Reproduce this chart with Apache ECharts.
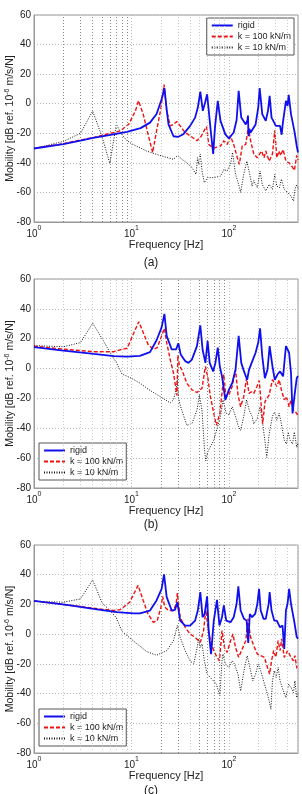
<!DOCTYPE html>
<html><head><meta charset="utf-8">
<script src="https://cdn.jsdelivr.net/npm/echarts@6/dist/echarts.min.js"></script>
<style>html,body{margin:0;padding:0;background:#fff;}#c{width:302px;height:794px;}</style>
</head><body><div id="c"></div>
<script>
// ---- data: [frequency Hz, mobility dB] ----
const rigidA = [[1,-30.3],[2,-27.4],[3,-25],[3.93,-23.3],[6.1,-21],[9,-19],[12.4,-16.5],[15.5,-12.8],[18.1,-7],[20.4,3],[21.8,10.5],[23,-4],[24,-14],[27,-22],[30,-22.5],[34,-20.7],[40,-15],[45,-9.4],[48,-2.6],[50.9,8.2],[54,-4.8],[57,0.8],[59.8,6.4],[64.6,-16],[69,-34],[72,-16],[76.9,2],[82,-11.6],[92,-20.7],[100,-23.4],[112,-19.5],[120,-11],[126,8.7],[134,-9.4],[149,-14],[155,-11],[157,-8],[159,-22],[162,-17],[167,-19.5],[188,-14],[200,-2.6],[207,10.5],[220,-7],[239,-11.6],[252,-4.8],[262,5.3],[274,-9.4],[292,-12.8],[303,-15],[315,-14],[335,-15],[348,-21],[358,-13],[370,-12.8],[385,2],[400,-1.5],[411,6],[434,-7],[470,-18.4],[497,-28.6],[512,-33]];
const k100A = [[1,-30.3],[2,-27],[2.98,-24.6],[4,-23],[6.1,-20],[7.7,-18.3],[9.4,-13.8],[11,-4.8],[11.8,2],[13.2,-7],[14.8,-20.6],[16.5,-33],[18.1,-18.4],[20,-3.7],[21.6,13],[23,-4.8],[25,-15],[27,-14],[29.2,-12],[31.6,-15],[35.6,-19.5],[41.7,-22.5],[47,-25],[52,-22],[57,-17],[59,-15.5],[62,-27.5],[70,-30],[82,-28.6],[89,-25],[96,-27.5],[104,-22],[112,-27.5],[122,-36.5],[128,-41],[137,-28.6],[149,-27.5],[158,-16],[167,-25],[180,-34],[196,-36.5],[216,-32],[230,-36.5],[239,-32],[259,-38.8],[280,-34],[296,-18],[310,-36.5],[328,-32],[340,-35],[360,-31],[385,-38.8],[415,-40],[450,-43],[470,-45],[497,-35],[512,-38]];
const k10A = [[1,-30.3],[2,-25.5],[3,-20],[4,-5],[5,-22.5],[6,-40.4],[7,-14],[8,-21],[9,-25],[10,-27],[14.3,-32],[19.6,-35],[27,-37.6],[29.9,-35],[33,-37.6],[37,-40],[41.7,-43],[46,-47.8],[47.7,-36.5],[49,-41],[50.9,-34],[53,-45.5],[56,-53.4],[60.5,-50],[70,-50],[82,-49],[89,-44.4],[96,-45.5],[104,-41],[109,-33],[117,-47.8],[126,-54.6],[132,-60],[142,-47.8],[153,-38.8],[161,-45.5],[173,-55.7],[180,-52],[196,-56.8],[209,-45.5],[220,-54.6],[239,-59],[259,-54.6],[280,-58],[296,-47.8],[310,-55.7],[330,-56.8],[346,-51],[370,-58],[400,-60],[434,-62.5],[460,-65.8],[476,-58],[497,-54.6],[512,-58]];

const rigidB = [[1,14.3],[2,12],[4.1,9.8],[6.6,8.4],[9,8],[12.2,8.5],[15.5,11],[18.1,19],[20.4,27.6],[21.8,36.6],[23,21.9],[25.9,12.8],[28.7,12.8],[30.3,17],[32,9.5],[35.6,5],[38.5,3.8],[41.7,6],[47,15],[50.9,29],[53.7,12.8],[57.4,3.8],[60.5,18.5],[63.5,3.8],[69,-1.9],[72.7,3.8],[76.9,14],[80.7,1.5],[85,-5.2],[92,-21],[100,-14.3],[108,-9.8],[117,-0.7],[126,21.9],[134,3.8],[143,-1.9],[154,-7.5],[161,-0.7],[174,5],[188,10.6],[200,17.4],[209,27],[220,8.3],[234,-6.4],[249,-0.7],[262,15],[280,1.5],[296,-7.5],[315,-4],[335,-1.9],[360,-5.2],[385,15],[400,12.8],[415,10.6],[434,-3],[450,-30],[470,-18.8],[497,-6.4],[512,-5]];
const k100B = [[1,15],[2,13],[4.1,11.3],[6.6,11.3],[7.6,12.5],[9,13.6],[9.6,17.4],[10.8,25.3],[11.9,31.4],[13.2,24.2],[14.8,16.2],[16.8,12.8],[18.4,14],[20.4,21.9],[21.8,26.9],[23,17.4],[25,6],[27,-3],[28.7,-14],[29.3,-18],[30,9],[31,2],[32.9,-0.7],[37,-9.8],[41.7,-14.3],[47,-16],[53,-13.2],[57.4,1.5],[60.5,-5.2],[64.6,-18.8],[70,-30],[74.5,-38],[80.7,-30],[85,-16.6],[88.7,-4],[93,-18.8],[100,-17.7],[108,-12],[117,-0.7],[124,-17.7],[132,-25.6],[142,-18.8],[152,-6.4],[161,-16.6],[170,-15.5],[180,-16.6],[194,-12],[205,-8],[215,-25],[222,-37],[235,-22],[259,-17.7],[280,-7.5],[296,-9.8],[310,-12],[328,-7.5],[346,-14.3],[370,-21],[390,-18.8],[415,-25.6],[434,-21],[460,-27.9],[497,-30],[512,-32]];
const k10B = [[1,15.4],[2,14.6],[3,17.4],[4,30.4],[5,20],[6,11],[7,4],[8,-3.6],[10,-6.5],[12.4,-10],[15,-14],[20,-19],[25,-23],[27,-21],[28.5,-15],[29.5,-7.5],[30.5,-20],[32,-25.6],[37,-38],[41.7,-37],[47,-27.9],[49.8,-17.7],[53,-27.9],[56,-52.8],[57.8,-61.8],[60.5,-56],[70,-48],[82,-32],[87,-21],[94,-30],[100,-31],[108,-25.6],[117,-32],[124,-38],[132,-41.4],[143,-31],[152,-21],[162,-28],[173,-32],[180,-37],[196,-33.5],[209,-25.6],[220,-34.6],[234,-48],[245,-59.5],[259,-43.7],[280,-32],[296,-29],[310,-34.6],[328,-30],[346,-37],[370,-48],[390,-50.5],[405,-42.5],[425,-48],[450,-50.5],[470,-42.5],[497,-52.8],[512,-50]];

const rigidC = [[1,22.4],[2.17,19.7],[4.07,17],[7.07,14.8],[10.5,14],[12.2,14],[15.5,15.9],[18.1,22.7],[20.4,30.5],[21.6,40.2],[23,24.9],[25.9,15.9],[28,16.4],[29.6,21.5],[31.6,9.1],[35.6,5.8],[40,5.8],[45,9.1],[48,15.9],[50.9,28.3],[53.7,11.4],[56.4,13.6],[59.8,25.4],[62,2.4],[65.6,-13.4],[70,9.1],[75.5,23.1],[80,5.8],[85,11.4],[88.7,19.3],[94,9.1],[104,8],[112,11.4],[120,20.4],[125,32.1],[132,15.9],[143,10.3],[152,9.1],[158,-6],[164,13.6],[173,11.4],[186,13.6],[196,20.4],[204,30.5],[212,15.9],[227,10.3],[239,10.3],[256,20.4],[262,28.3],[274,15.9],[292,9.1],[310,9.1],[335,4.6],[355,5.8],[370,-10],[385,15.9],[400,20.4],[415,30.5],[434,20.4],[470,8],[497,-2],[512,-3]];
const k100C = [[1,22.4],[2.17,19.7],[4.07,17.4],[6.5,16],[7.6,16.4],[8.2,17.9],[9.6,21.5],[10.8,28.3],[11.7,32.8],[13.2,22.7],[14.8,13.6],[16.8,8],[18.4,9.1],[20.1,18.2],[20.9,25.4],[22,18.2],[24,15.9],[27,15.9],[28.7,20.4],[29.6,27.6],[31.6,11.4],[35.6,4.6],[40,0.1],[45,-2.1],[50.9,-5.5],[55,2.4],[58,16.4],[61,4.6],[64.6,-4.4],[70,-11.1],[75.5,-15.6],[80,-17.9],[85,2.4],[90,-8.9],[96,-12.3],[104,-4.4],[110,0.1],[117,-8.9],[126,-15.6],[137,-10],[149,-4.4],[157,10.3],[167,-2.1],[180,-7.8],[196,-13.4],[212,-14.5],[231,-15.6],[249,-22.4],[262,-26.9],[274,-17.9],[288,-11.1],[303,-15.6],[320,-4.4],[335,-11.1],[348,-3.2],[370,-15.6],[400,-11.1],[434,-15.6],[460,-17.9],[476,-14.5],[497,-22.4],[512,-24]];
const k10C = [[1,22],[2,21.5],[3,23.7],[4,36.5],[5,21],[6,16],[7,11],[8,1.8],[10.4,-4.4],[14.3,-11.7],[18.1,-14.2],[23,-11.1],[27,-4.4],[29.6,5.8],[31.6,-2.1],[35.6,-11.1],[40,-17.9],[43.5,-20.1],[47,-10],[48.9,-3.2],[50.9,-8.9],[53,-6.6],[56,-17.9],[59.8,-26.9],[67,-30.3],[74.5,-33.7],[80.7,-41.5],[85,-17.9],[87,-13.4],[92,-20.1],[100,-22.4],[108,-17.9],[114,-20.1],[124,-26.9],[132,-38.2],[143,-24.6],[154,-14.5],[164,-22.4],[176,-31.4],[188,-26.9],[200,-20.1],[212,-24.6],[227,-31.4],[243,-38.2],[259,-44.9],[270,-50.5],[280,-31.4],[292,-24.6],[305,-29.1],[320,-22.4],[335,-31.4],[357,-37],[385,-42.7],[411,-33.7],[434,-35.9],[460,-39.3],[476,-31.4],[497,-42.7],[512,-40]];

const seriesNames = ['rigid', 'k = 100 kN/m', 'k = 10 kN/m'];
const panelLabels = ['(a)', '(b)', '(c)'];
const minorFreqs = [2,3,4,5,6,7,8,9,20,30,40,50,60,70,80,90,200,300,400,500];
const yTicks = {min: -80, max: 60, interval: 20};
const xRange = {min: 1, max: 512};

// ---- layout / style ----
const panels = [
  {data: [rigidA, k100A, k10A], top: 15, height: 207, legend: {right: 8, top: 18}, label: 257, dark: [2,3,4,5,6,7,8,9]},
  {data: [rigidB, k100B, k10B], top: 279, height: 209, legend: {left: 39, top: 443}, label: 519, dark: [20,30,50,60,70,80,90]},
  {data: [rigidC, k100C, k10C], top: 545, height: 208, legend: {left: 39, top: 709}, label: 785, dark: [20,30,50,60,70,80,90]}
];
const styles = [
  {color: '#1010ee', width: 1.8, type: 'solid'},
  {color: '#ee1111', width: 1.4, type: [4, 2]},
  {color: '#111111', width: 1, type: [1, 1.5]}
];
const fontFam = 'Liberation Sans, Arial, sans-serif';

const option = {animation: false, backgroundColor: '#fff', grid: [], xAxis: [], yAxis: [], series: [], legend: [], title: []};
panels.forEach((p, i) => {
  option.grid.push({left: 34, width: 264, top: p.top, height: p.height, outerBoundsMode: 'none', containLabel: false,
    show: true, borderColor: '#999', borderWidth: 1, backgroundColor: '#fff'});
  option.xAxis.push({
    type: 'log', logBase: 10, gridIndex: i, min: xRange.min, max: xRange.max,
    name: 'Frequency [Hz]', nameLocation: 'middle', nameGap: 17, nameMoveOverlap: false,
    nameTextStyle: {fontSize: 11, color: '#222', fontFamily: fontFam},
    axisLine: {onZero: false, lineStyle: {color: '#999'}},
    axisTick: {show: false},
    splitLine: {show: true, lineStyle: {color: '#bbb', type: [1, 2], width: 1}},
    axisLabel: {
      margin: 3, showMaxLabel: false, color: '#222', fontFamily: fontFam,
      formatter: v => { const e = Math.round(Math.log10(v)); return Math.abs(v - Math.pow(10, e)) < 1e-6 ? '{b|10}{s|' + e + '}' : ''; },
      rich: {b: {fontSize: 10, fontFamily: fontFam, color: '#222', verticalAlign: 'bottom', lineHeight: 14}, s: {fontSize: 7, fontFamily: fontFam, color: '#222', verticalAlign: 'top', lineHeight: 14}}
    }
  });
  option.yAxis.push({
    type: 'value', gridIndex: i, min: yTicks.min, max: yTicks.max, interval: yTicks.interval,
    name: 'Mobility [dB ref. 10{s|-6} m/s/N]', nameLocation: 'middle', nameGap: 17, nameMoveOverlap: false,
    nameTextStyle: {fontSize: 10.5, color: '#222', fontFamily: fontFam,
      rich: {s: {fontSize: 7, fontFamily: fontFam, color: '#222', verticalAlign: 'top', lineHeight: 13}}},
    axisLine: {show: true, onZero: false, lineStyle: {color: '#999'}},
    axisTick: {show: false},
    splitLine: {show: true, lineStyle: {color: '#bbb', type: [1, 2], width: 1}},
    axisLabel: {margin: 3, fontSize: 10, color: '#222', fontFamily: fontFam}
  });
  // minor vertical grid lines
  option.series.push({
    type: 'line', xAxisIndex: i, yAxisIndex: i, data: [], silent: true, z: 1,
    markLine: {silent: true, symbol: ['none', 'none'], label: {show: false}, animation: false,
      data: minorFreqs.map(f => ({xAxis: f, lineStyle: {color: p.dark.includes(f) ? '#888' : '#c8c8c8', type: [1, 2], width: 1}}))}
  });
  p.data.forEach((d, j) => {
    option.series.push({
      type: 'line', name: seriesNames[j], xAxisIndex: i, yAxisIndex: i, data: d,
      showSymbol: false, symbol: 'none', z: 5 - j,
      lineStyle: {color: styles[j].color, width: styles[j].width, type: styles[j].type},
      itemStyle: {color: styles[j].color}
    });
  });
  option.legend.push(Object.assign({
    orient: 'vertical', data: seriesNames, itemWidth: 21, itemHeight: 9, itemGap: 2,
    padding: [3, 3, 3, 4], borderColor: '#555', borderWidth: 1, backgroundColor: '#fff',
    itemStyle: {opacity: 0, color: 'rgba(0,0,0,0)', borderColor: 'rgba(0,0,0,0)', borderWidth: 0},
    textStyle: {fontSize: 9, color: '#222', fontFamily: fontFam}, selectedMode: false
  }, p.legend));
  option.title.push({text: panelLabels[i], left: 'center', top: p.label, padding: 0,
    textStyle: {fontSize: 12, fontWeight: 'normal', color: '#222', fontFamily: fontFam}});
});

const chart = echarts.init(document.getElementById('c'), null, {renderer: 'canvas'});
chart.setOption(option);
</script>
</body></html>
